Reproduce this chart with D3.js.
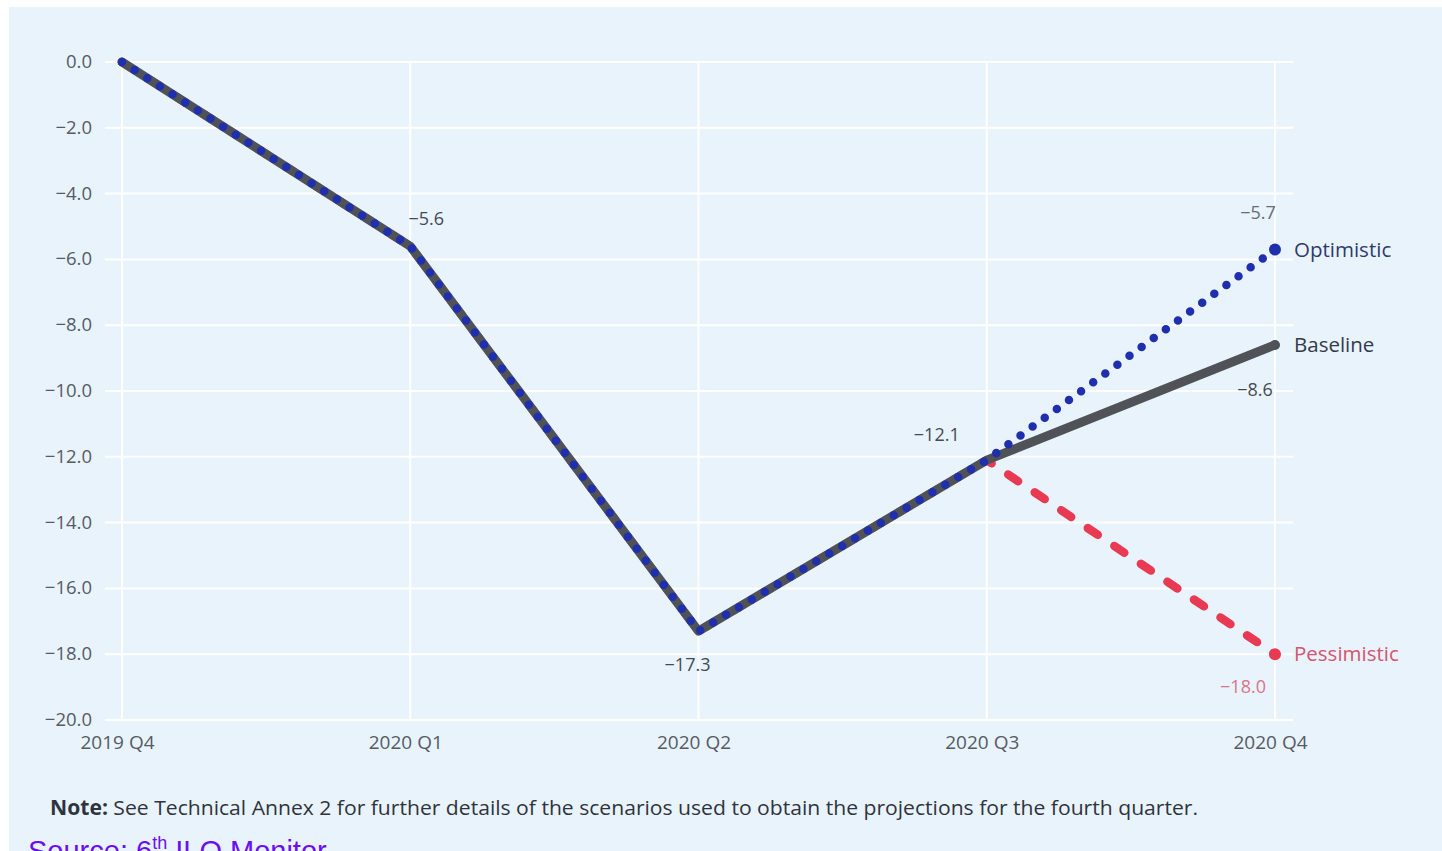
<!DOCTYPE html>
<html>
<head>
<meta charset="utf-8">
<script src="https://cdn.jsdelivr.net/npm/d3@7/dist/d3.min.js"></script>
<style>
  html, body { margin: 0; padding: 0; background: #ffffff; overflow: hidden; }
  svg { display: block; }
</style>
</head>
<body>
<svg id="chart" width="1442" height="851"></svg>
<script>
// Quarters on the x axis
const quarters = ["2019 Q4", "2020 Q1", "2020 Q2", "2020 Q3", "2020 Q4"];

// Percentage change in working hours relative to 2019 Q4
const baseline    = [0, -5.6, -17.3, -12.1, -8.6];
const optimistic  = [0, -5.6, -17.3, -12.1, -5.7];
const pessimistic = [0, -5.6, -17.3, -12.1, -18.0];

// Y axis ticks
const yTicks = [0, -2, -4, -6, -8, -10, -12, -14, -16, -18, -20];

// Value labels shown next to points: [series, quarter index]
const pointLabels = [
  { values: baseline, i: 1 },
  { values: baseline, i: 2 },
  { values: baseline, i: 3 },
  { values: optimistic, i: 4 },
  { values: baseline, i: 4 },
  { values: pessimistic, i: 4 }
];

const svg = d3.select("#chart");
const W = 1442, H = 851;

// Panel background
svg.append("rect").attr("x", 9).attr("y", 7).attr("width", W - 9).attr("height", H - 7)
  .attr("fill", "#e9f3fc");

const x = d3.scalePoint().domain(quarters).range([122, 1275]);
const y = d3.scaleLinear().domain([-20, 0]).range([720, 62]);

const grid = svg.append("g");
// Horizontal grid lines
grid.selectAll("line.h").data(yTicks).join("line")
  .attr("x1", 105).attr("x2", 1293)
  .attr("y1", d => y(d)).attr("y2", d => y(d))
  .attr("stroke", "#ffffff").attr("stroke-width", 2);
// Vertical grid lines
grid.selectAll("line.v").data(quarters).join("line")
  .attr("x1", d => x(d)).attr("x2", d => x(d))
  .attr("y1", y(0)).attr("y2", y(-20))
  .attr("stroke", "#ffffff").attr("stroke-width", 2);

const fmt = v => d3.format(".1f")(v).replace("-", "\u2212");

// Y axis
const yAxis = svg.append("g").attr("transform", "translate(92,0)")
  .call(d3.axisLeft(y).tickValues(yTicks).tickSize(0).tickPadding(0).tickFormat(fmt));
yAxis.select(".domain").remove();
yAxis.selectAll("text")
  .attr("font-family", "'Open Sans', sans-serif").attr("font-size", 18.5)
  .attr("fill", "#555b66").attr("dy", "0.3em");

// X axis
const xAxis = svg.append("g").attr("transform", "translate(-5,730)")
  .call(d3.axisBottom(x).tickSize(0).tickPadding(0));
xAxis.select(".domain").remove();
xAxis.selectAll("text")
  .attr("font-family", "'Open Sans', sans-serif").attr("font-size", 19)
  .attr("fill", "#555b66").attr("dy", "1em");

const line = d3.line().x((d, i) => x(quarters[i])).y(d => y(d));

// Pessimistic: red dashed
svg.append("path").datum(pessimistic).attr("d", line)
  .attr("fill", "none").attr("stroke", "#e83a52").attr("stroke-width", 8.5)
  .attr("stroke-linecap", "round").attr("stroke-linejoin", "round")
  .attr("stroke-dasharray", "12 20");

// Baseline: grey solid
svg.append("path").datum(baseline).attr("d", line)
  .attr("fill", "none").attr("stroke", "#4f5257").attr("stroke-width", 9)
  .attr("stroke-linecap", "round").attr("stroke-linejoin", "round");

// Optimistic: blue dotted
svg.append("path").datum(optimistic).attr("d", line)
  .attr("fill", "none").attr("stroke", "#1f2fae").attr("stroke-width", 8.5)
  .attr("stroke-linecap", "round").attr("stroke-linejoin", "round")
  .attr("stroke-dasharray", "0 15");

// End markers
const last = quarters.length - 1;
svg.append("circle").attr("cx", x(quarters[last])).attr("cy", y(pessimistic[last]))
  .attr("r", 6).attr("fill", "#e83a52");
svg.append("circle").attr("cx", x(quarters[last])).attr("cy", y(baseline[last]))
  .attr("r", 5).attr("fill", "#4f5257");
svg.append("circle").attr("cx", x(quarters[last])).attr("cy", y(optimistic[last]))
  .attr("r", 6).attr("fill", "#1f2fae");

// Value labels
const labelStyle = [
  { dx: 16, dy: -21, color: "#444a55" },   // -5.6
  { dx: -11, dy: 40, color: "#444a55" },   // -17.3
  { dx: -50, dy: -19, color: "#444a55" },  // -12.1
  { dx: -17, dy: -31, color: "#666c78" },  // -5.7
  { dx: -20, dy: 51, color: "#444a55" },   // -8.6
  { dx: -32, dy: 39, color: "#d9768c" }    // -18.0
];
svg.append("g").selectAll("text").data(pointLabels).join("text")
  .attr("x", (d, k) => x(quarters[d.i]) + labelStyle[k].dx)
  .attr("y", (d, k) => y(d.values[d.i]) + labelStyle[k].dy)
  .attr("text-anchor", "middle")
  .attr("font-family", "'Open Sans', sans-serif").attr("font-size", 18)
  .attr("fill", (d, k) => labelStyle[k].color)
  .text(d => d3.format(".1f")(d.values[d.i]));

// Series names at line ends
const seriesNames = [
  { name: "Optimistic", values: optimistic, color: "#2e3a6e" },
  { name: "Baseline", values: baseline, color: "#333a4d" },
  { name: "Pessimistic", values: pessimistic, color: "#d4566f" }
];
svg.append("g").selectAll("text").data(seriesNames).join("text")
  .attr("x", x(quarters[last]) + 19)
  .attr("y", d => y(d.values[last]) + 7)
  .attr("font-family", "'Open Sans', sans-serif").attr("font-size", 20.5)
  .attr("fill", d => d.color)
  .text(d => d.name);

// Note
const note = svg.append("text").attr("x", 50).attr("y", 815)
  .attr("font-family", "'Open Sans', sans-serif").attr("font-size", 20.5)
  .attr("fill", "#2f3340")
  .attr("textLength", 1148).attr("lengthAdjust", "spacingAndGlyphs");
note.append("tspan").attr("font-weight", "bold").text("Note:");
note.append("tspan").text(" See Technical Annex 2 for further details of the scenarios used to obtain the projections for the fourth quarter.");

// Source line
const src = svg.append("text").attr("x", 28).attr("y", 861)
  .attr("font-family", "'Liberation Sans', Arial, sans-serif").attr("font-size", 29)
  .attr("fill", "#6a0ff0");
src.append("tspan").text("Source: 6");
src.append("tspan").attr("font-size", 18).attr("dy", -12).text("th");
src.append("tspan").attr("dy", 12).text(" ILO Monitor");
</script>
</body>
</html>
